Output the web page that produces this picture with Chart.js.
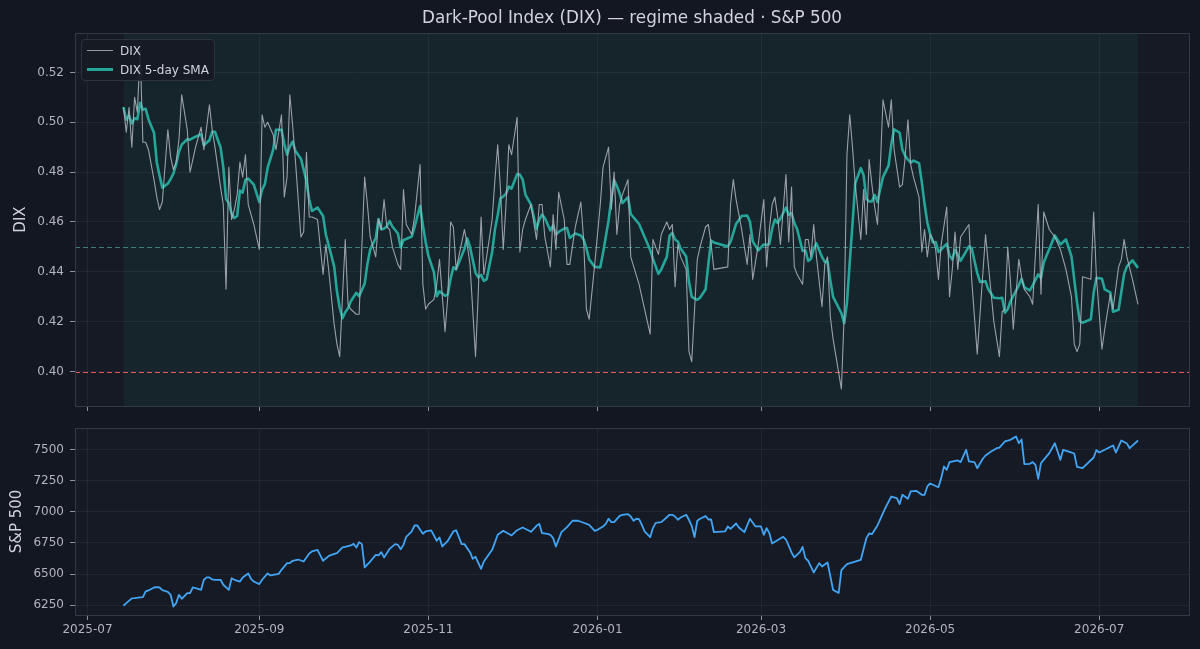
<!DOCTYPE html>
<html>
<head>
<meta charset="utf-8">
<title>Dark-Pool Index (DIX) — regime shaded · S&P 500</title>
<script src="https://cdn.jsdelivr.net/npm/chart.js@4.4.1/dist/chart.umd.min.js"></script>
<style>
  html, body { margin: 0; padding: 0; background: #131722; }
  #wrap { position: relative; width: 1200px; height: 649px; overflow: hidden; font-family: 'DejaVu Sans', sans-serif; }
  canvas { position: absolute; left: 0; }
  #topChart { top: 0; }
  #bottomChart { top: 420px; }
  #title { position: absolute; top: 7px; left: 332px; width: 600px; text-align: center; color: #d1d4dc; font-size: 16.8px; }
  #legend { position: absolute; left: 81px; top: 39px; width: 132px; height: 40px; background: rgba(22,26,36,0.92);
            border: 1px solid #2e323d; border-radius: 4px; color: #d1d4dc; font-size: 12px; }
  #legend .item { position: absolute; left: 38px; line-height: 14px; white-space: nowrap; }
  #legend .swatch { position: absolute; left: -33px; width: 26px; }
</style>
</head>
<body>
<div id="wrap">
  <canvas id="topChart" width="1200" height="420"></canvas>
  <canvas id="bottomChart" width="1200" height="229"></canvas>
  <div id="title">Dark-Pool Index (DIX) — regime shaded · S&amp;P 500</div>
  <div id="legend">
    <div class="item" style="top:4px"><span class="swatch" style="top:6px;border-top:1px solid #9598a1"></span>DIX</div>
    <div class="item" style="top:23px"><span class="swatch" style="top:5px;border-top:3px solid #26a69a"></span>DIX 5-day SMA</div>
  </div>
</div>
<script>
// axes : jours calendaires depuis le 2025-07-01
const xTickDays = [0, 62, 123, 184, 243, 304, 365];
const xTickLabels = ['2025-07', '2025-09', '2025-11', '2026-01', '2026-03', '2026-05', '2026-07'];
const xLimits = [-4.5, 397.4];
const dixTicks = [0.40, 0.42, 0.44, 0.46, 0.48, 0.50, 0.52];
const spxTicks = [6250, 6500, 6750, 7000, 7250, 7500];
const neutralLevel = 0.45;
const bearLevel = 0.40;
const smaWindow = 5;

// DIX quotidien
const dixDays = [
  13, 14, 15, 16, 17, 18, 19, 20, 21, 22, 24, 25, 26, 27, 29, 30, 31, 32, 33, 34,
  36, 37, 39, 41, 42, 44, 45, 46, 47, 48, 49, 50, 51, 52, 53, 54, 55, 56, 57, 58,
  60, 62, 63, 64, 65, 67, 68, 70, 71, 72, 73, 74, 75, 77, 78, 79, 80, 81, 83, 85,
  86, 87, 89, 90, 91, 92, 93, 94, 95, 97, 98, 100, 101, 102, 104, 105, 106, 107, 108, 109,
  110, 112, 113, 114, 115, 117, 118, 120, 121, 122, 123, 125, 126, 127, 129, 130, 131, 132, 133, 136,
  137, 138, 140, 141, 142, 143, 144, 146, 147, 148, 149, 150, 151, 152, 153, 155, 156, 157, 158, 160,
  162, 163, 164, 165, 167, 168, 169, 170, 172, 173, 174, 176, 178, 179, 180, 181, 183, 185, 186, 188,
  189, 190, 191, 192, 193, 195, 196, 199, 203, 204, 206, 207, 209, 210, 211, 212, 213, 214, 216, 217,
  218, 220, 221, 223, 224, 225, 226, 231, 232, 233, 234, 236, 238, 239, 240, 242, 244, 245, 246, 247,
  248, 249, 250, 252, 253, 254, 255, 256, 258, 259, 260, 261, 262, 263, 265, 266, 267, 268, 269, 272,
  273, 274, 275, 276, 277, 279, 280, 281, 282, 283, 284, 285, 286, 287, 289, 290, 291, 293, 294, 295,
  296, 297, 298, 300, 301, 302, 303, 304, 305, 306, 307, 308, 310, 311, 312, 313, 314, 315, 318, 319,
  321, 322, 324, 325, 327, 329, 330, 331, 332, 333, 334, 336, 337, 338, 340, 341, 343, 344, 345, 347,
  349, 351, 353, 355, 356, 357, 358, 359, 362, 363, 364, 366, 367, 369, 370, 372, 373, 374, 375, 377,
  379
];
const dixValues = [
  0.506, 0.496, 0.506, 0.490, 0.510, 0.504, 0.529, 0.492, 0.492, 0.489, 0.477, 0.470, 0.465, 0.468, 0.497, 0.486, 0.481, 0.484, 0.493, 0.511,
  0.497, 0.480, 0.490, 0.498, 0.489, 0.507, 0.497, 0.490, 0.482, 0.474, 0.467, 0.433, 0.482, 0.461, 0.465, 0.471, 0.484, 0.478, 0.487, 0.467,
  0.459, 0.449, 0.503, 0.498, 0.500, 0.495, 0.489, 0.503, 0.470, 0.478, 0.511, 0.499, 0.485, 0.454, 0.456, 0.488, 0.462, 0.462, 0.461, 0.439,
  0.451, 0.441, 0.419, 0.411, 0.406, 0.430, 0.453, 0.427, 0.425, 0.423, 0.423, 0.478, 0.467, 0.454, 0.446, 0.461, 0.457, 0.469, 0.458, 0.457,
  0.450, 0.443, 0.441, 0.473, 0.459, 0.455, 0.462, 0.483, 0.435, 0.425, 0.427, 0.429, 0.435, 0.445, 0.416, 0.430, 0.460, 0.458, 0.441, 0.457,
  0.451, 0.443, 0.406, 0.432, 0.462, 0.439, 0.446, 0.461, 0.477, 0.491, 0.473, 0.449, 0.467, 0.491, 0.487, 0.502, 0.448, 0.457, 0.461, 0.467,
  0.453, 0.467, 0.467, 0.454, 0.442, 0.463, 0.449, 0.472, 0.461, 0.443, 0.443, 0.458, 0.468, 0.453, 0.425, 0.421, 0.443, 0.467, 0.482, 0.490,
  0.465, 0.480, 0.455, 0.467, 0.471, 0.477, 0.446, 0.435, 0.415, 0.453, 0.447, 0.455, 0.460, 0.457, 0.459, 0.434, 0.451, 0.446, 0.441, 0.408,
  0.404, 0.445, 0.450, 0.458, 0.459, 0.451, 0.441, 0.442, 0.467, 0.477, 0.469, 0.457, 0.443, 0.455, 0.437, 0.451, 0.469, 0.442, 0.457, 0.467,
  0.470, 0.462, 0.451, 0.479, 0.452, 0.474, 0.442, 0.439, 0.435, 0.453, 0.453, 0.446, 0.459, 0.446, 0.426, 0.443, 0.446, 0.422, 0.413, 0.393,
  0.423, 0.487, 0.503, 0.490, 0.475, 0.453, 0.473, 0.455, 0.485, 0.475, 0.466, 0.459, 0.481, 0.509, 0.498, 0.509, 0.489, 0.474, 0.475, 0.486,
  0.501, 0.483, 0.478, 0.470, 0.448, 0.457, 0.446, 0.455, 0.453, 0.449, 0.437, 0.451, 0.466, 0.430, 0.441, 0.456, 0.441, 0.454, 0.459, 0.437,
  0.407, 0.423, 0.455, 0.443, 0.420, 0.406, 0.424, 0.425, 0.450, 0.436, 0.417, 0.445, 0.438, 0.433, 0.430, 0.427, 0.467, 0.431, 0.464, 0.457,
  0.454, 0.449, 0.441, 0.430, 0.411, 0.408, 0.411, 0.438, 0.437, 0.464, 0.438, 0.409, 0.417, 0.431, 0.425, 0.442, 0.445, 0.453, 0.446, 0.437,
  0.427
];

// S&P 500 clôture
const spxDays = [
  13, 14, 16, 17, 19, 20, 21, 22, 24, 25, 26, 27, 29, 30, 31, 32, 33, 34, 36, 37,
  38, 39, 41, 42, 43, 44, 45, 46, 48, 49, 51, 52, 53, 55, 56, 58, 59, 60, 62, 63,
  65, 66, 67, 69, 70, 72, 73, 74, 76, 78, 80, 81, 83, 84, 85, 87, 88, 90, 92, 93,
  95, 96, 97, 98, 99, 100, 102, 104, 105, 106, 107, 108, 109, 111, 112, 113, 114, 115, 117, 118,
  119, 121, 122, 124, 126, 127, 128, 130, 132, 133, 135, 136, 138, 139, 140, 142, 143, 146, 148, 150,
  153, 155, 157, 159, 160, 162, 163, 164, 166, 167, 168, 169, 171, 173, 175, 177, 179, 181, 183, 184,
  186, 187, 188, 189, 190, 192, 193, 195, 196, 197, 198, 199, 200, 201, 203, 204, 205, 207, 208, 210,
  211, 212, 213, 214, 216, 217, 218, 219, 220, 221, 223, 224, 225, 226, 230, 231, 232, 234, 235, 237,
  239, 241, 243, 244, 245, 246, 247, 251, 252, 254, 255, 257, 258, 259, 260, 262, 264, 265, 267, 269,
  271, 272, 274, 279, 281, 282, 283, 285, 287, 288, 290, 292, 293, 294, 296, 297, 299, 301, 302, 303,
  304, 307, 308, 309, 310, 311, 314, 315, 317, 318, 320, 321, 323, 324, 326, 328, 329, 331, 333, 334,
  335, 336, 337, 338, 340, 341, 342, 343, 344, 347, 349, 350, 351, 352, 354, 356, 357, 359, 363, 364,
  365, 367, 370, 371, 373, 375, 376, 379
];
const spxValues = [
  6245, 6266, 6304, 6306, 6312, 6314, 6360, 6368, 6392, 6395, 6392, 6371, 6357, 6333, 6239, 6266, 6333, 6301, 6347, 6347,
  6392, 6387, 6373, 6454, 6473, 6473, 6457, 6454, 6454, 6414, 6373, 6467, 6454, 6440, 6473, 6505, 6462, 6440, 6419, 6454,
  6505, 6489, 6494, 6502, 6534, 6588, 6588, 6607, 6617, 6601, 6666, 6682, 6695, 6650, 6607, 6644, 6655, 6668, 6714, 6719,
  6730, 6743, 6714, 6757, 6741, 6553, 6601, 6655, 6650, 6676, 6634, 6668, 6703, 6741, 6735, 6700, 6735, 6800, 6843, 6891,
  6891, 6824, 6843, 6851, 6768, 6794, 6722, 6768, 6843, 6853, 6741, 6741, 6676, 6623, 6639, 6542, 6601, 6695, 6816, 6848,
  6811, 6853, 6875, 6853, 6840, 6888, 6904, 6829, 6824, 6816, 6789, 6722, 6837, 6878, 6929, 6929, 6913, 6896, 6848, 6856,
  6883, 6904, 6945, 6918, 6918, 6969, 6977, 6982, 6963, 6929, 6945, 6942, 6896, 6843, 6797, 6870, 6912, 6918, 6937, 6977,
  6977, 6963, 6937, 6955, 6977, 6937, 6888, 6797, 6929, 6945, 6966, 6939, 6939, 6837, 6843, 6883, 6864, 6907, 6875, 6837,
  6945, 6883, 6883, 6816, 6870, 6829, 6746, 6800, 6778, 6674, 6634, 6676, 6719, 6628, 6607, 6513, 6588, 6561, 6593, 6373,
  6347, 6532, 6580, 6615, 6789, 6827, 6821, 6891, 6990, 7038, 7124, 7111, 7063, 7138, 7106, 7165, 7170, 7138, 7138, 7205,
  7229, 7199, 7272, 7366, 7339, 7401, 7414, 7401, 7500, 7406, 7401, 7352, 7428, 7454, 7486, 7513, 7518, 7567, 7580, 7594,
  7607, 7553, 7583, 7384, 7387, 7401, 7379, 7266, 7393, 7473, 7553, 7486, 7419, 7500, 7486, 7470, 7363, 7352, 7438, 7497,
  7478, 7500, 7535, 7478, 7575, 7551, 7513, 7575
];

Chart.defaults.font.family = "'DejaVu Sans', sans-serif";
Chart.defaults.font.size = 12;
Chart.defaults.color = '#b2b5be';

const gridColor = 'rgba(255,255,255,0.05)';
const tickColor = '#8c909a';

// moyenne mobile simple (min 1 point au début)
function rollingMean(values, n) {
  return values.map((_, i) => {
    const win = values.slice(Math.max(0, i - n + 1), i + 1);
    return win.reduce((a, b) => a + b, 0) / win.length;
  });
}

// marge de 5% autour des données, comme matplotlib
function padRange(values, frac) {
  const lo = Math.min(...values), hi = Math.max(...values);
  const pad = (hi - lo) * frac;
  return [lo - pad, hi + pad];
}

function toPoints(xs, ys) {
  return xs.map((x, i) => ({ x: x, y: ys[i] }));
}

const dixSma = rollingMean(dixValues, smaWindow);
const dixRange = padRange(dixValues, 0.05);
const spxRange = padRange(spxValues, 0.05);

// fond du panneau, zone ombrée, lignes de référence et cadre
const panelPlugin = {
  id: 'panel',
  beforeDraw(chart, args, opts) {
    const { ctx, chartArea: a } = chart;
    ctx.save();
    ctx.fillStyle = '#151a24';
    ctx.fillRect(a.left, a.top, a.width, a.height);
    if (opts.shade) {
      const x = chart.scales.x;
      const x0 = x.getPixelForValue(opts.shade[0]);
      const x1 = x.getPixelForValue(opts.shade[1]);
      ctx.fillStyle = 'rgba(38,166,154,0.075)';
      ctx.fillRect(x0, a.top, x1 - x0, a.height);
    }
    ctx.restore();
  },
  beforeDatasetsDraw(chart, args, opts) {
    if (!opts.levels) return;
    const { ctx, chartArea: a } = chart;
    const y = chart.scales.y;
    ctx.save();
    ctx.lineWidth = 1.2;
    ctx.setLineDash([5, 3]);
    opts.levels.forEach(l => {
      const py = Math.round(y.getPixelForValue(l.value)) + 0.5;
      ctx.strokeStyle = l.color;
      ctx.beginPath();
      ctx.moveTo(a.left, py);
      ctx.lineTo(a.right, py);
      ctx.stroke();
    });
    ctx.restore();
  },
  afterDraw(chart) {
    const { ctx, chartArea: a } = chart;
    ctx.save();
    ctx.strokeStyle = '#343844';
    ctx.lineWidth = 1;
    ctx.strokeRect(Math.round(a.left) + 0.5, Math.round(a.top) + 0.5, Math.round(a.width), Math.round(a.height));
    ctx.restore();
  }
};

function xScale(showLabels, height) {
  return {
    type: 'linear',
    min: xLimits[0],
    max: xLimits[1],
    afterBuildTicks: s => { s.ticks = xTickDays.map(v => ({ value: v })); },
    afterFit: s => { s.height = height; },
    ticks: {
      display: showLabels,
      padding: 3,
      maxRotation: 0,
      callback: v => xTickLabels[xTickDays.indexOf(v)]
    },
    grid: { color: gridColor, tickColor: tickColor, tickLength: 5 },
    border: { display: false }
  };
}

function yScale(range, ticks, fmt, label, titlePad) {
  return {
    min: range[0],
    max: range[1],
    afterBuildTicks: s => { s.ticks = ticks.map(v => ({ value: v })); },
    afterFit: s => { s.width = 75; s.paddingTop = 0; s.paddingBottom = 0; },
    ticks: { padding: 6, callback: fmt },
    grid: { color: gridColor, tickColor: tickColor, tickLength: 5 },
    border: { display: false },
    title: { display: true, text: label, color: '#d1d4dc', font: { size: 15 }, padding: { top: titlePad, bottom: 0 } }
  };
}

new Chart(document.getElementById('topChart'), {
  type: 'line',
  data: {
    datasets: [
      {
        label: 'DIX',
        data: toPoints(dixDays, dixValues),
        borderColor: 'rgba(178,182,190,0.85)',
        borderWidth: 1.1,
        pointRadius: 0,
        tension: 0,
        borderJoinStyle: 'round'
      },
      {
        label: 'DIX 5-day SMA',
        data: toPoints(dixDays, dixSma),
        borderColor: '#26a69a',
        borderWidth: 2.6,
        pointRadius: 0,
        tension: 0,
        borderJoinStyle: 'round'
      }
    ]
  },
  options: {
    responsive: false,
    animation: false,
    events: [],
    layout: { padding: { top: 33, right: 11, left: 0, bottom: 0 } },
    plugins: {
      legend: { display: false },
      tooltip: { enabled: false },
      panel: {
        shade: [dixDays[0], dixDays[dixDays.length - 1]],
        levels: [
          { value: neutralLevel, color: 'rgba(77,182,172,0.65)' },
          { value: bearLevel, color: '#ef5350' }
        ]
      }
    },
    scales: {
      x: xScale(false, 14),
      y: yScale(dixRange, dixTicks, v => v.toFixed(2), 'DIX', 12)
    }
  },
  plugins: [panelPlugin]
});

new Chart(document.getElementById('bottomChart'), {
  type: 'line',
  data: {
    datasets: [
      {
        label: 'S&P 500',
        data: toPoints(spxDays, spxValues),
        borderColor: '#42a5f5',
        borderWidth: 1.8,
        pointRadius: 0,
        tension: 0,
        borderJoinStyle: 'round'
      }
    ]
  },
  options: {
    responsive: false,
    animation: false,
    events: [],
    layout: { padding: { top: 8, right: 11, left: 0, bottom: 0 } },
    plugins: {
      legend: { display: false },
      tooltip: { enabled: false },
      panel: {}
    },
    scales: {
      x: xScale(true, 34),
      y: yScale(spxRange, spxTicks, v => String(v), 'S&P 500', 8)
    }
  },
  plugins: [panelPlugin]
});
</script>
</body>
</html>
